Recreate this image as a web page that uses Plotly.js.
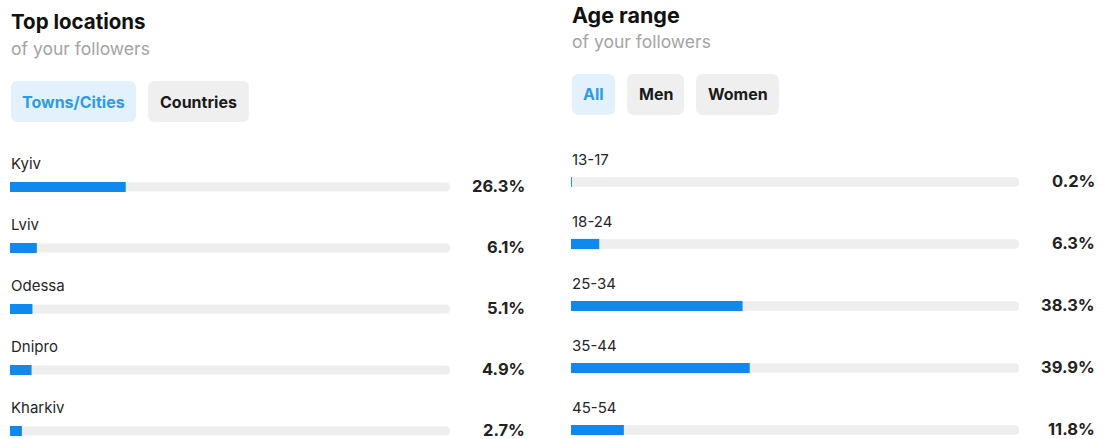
<!DOCTYPE html>
<html>
<head>
<meta charset="utf-8">
<script src="https://cdn.plot.ly/plotly-3.0.1.min.js"></script>
<style>html,body{margin:0;padding:0;background:#fff;}#chart{width:1104px;height:439px;}</style>
</head>
<body>
<div id="chart"></div>
<script>
// ---- data ----
const cities = ["Kyiv", "Lviv", "Odessa", "Dnipro", "Kharkiv"];
const cityShare = [26.3, 6.1, 5.1, 4.9, 2.7];
const ages = ["13-17", "18-24", "25-34", "35-44", "45-54"];
const ageShare = [0.2, 6.3, 38.3, 39.9, 11.8];
const fullScale = [100, 100, 100, 100, 100];
const leftTabs = ["Towns/Cities", "Countries"];
const rightTabs = ["All", "Men", "Women"];

// ---- style ----
const W = 1104, H = 439;
const BLUE = "#1089ee";
const TRACK = "#eeeeee";
const FONT = "Inter, 'Open Sans', sans-serif";
const px = v => v / W;
const py = v => 1 - v / H;

function roundRect(x0, y0, x1, y1, r) {
  const X = v => px(v).toFixed(5), Y = v => py(v).toFixed(5);
  return `M${X(x0 + r)},${Y(y0)} L${X(x1 - r)},${Y(y0)} Q${X(x1)},${Y(y0)} ${X(x1)},${Y(y0 + r)} ` +
         `L${X(x1)},${Y(y1 - r)} Q${X(x1)},${Y(y1)} ${X(x1 - r)},${Y(y1)} ` +
         `L${X(x0 + r)},${Y(y1)} Q${X(x0)},${Y(y1)} ${X(x0)},${Y(y1 - r)} ` +
         `L${X(x0)},${Y(y0 + r)} Q${X(x0)},${Y(y0)} ${X(x0 + r)},${Y(y0)} Z`;
}

const TW = 0.15, BW = 0.165;
const traces = [
  {type: "bar", orientation: "h", y: cities, x: fullScale, xaxis: "x", yaxis: "y",
   marker: {color: TRACK, cornerradius: 5}, width: TW, offset: -TW / 2, hoverinfo: "skip"},
  {type: "bar", orientation: "h", y: cities, x: cityShare, xaxis: "x", yaxis: "y",
   marker: {color: BLUE, cornerradius: 5}, width: BW, offset: -BW / 2, hoverinfo: "skip"},
  {type: "bar", orientation: "h", y: ages, x: fullScale, xaxis: "x2", yaxis: "y2",
   marker: {color: TRACK, cornerradius: 5}, width: TW, offset: -TW / 2, hoverinfo: "skip"},
  {type: "bar", orientation: "h", y: ages, x: ageShare, xaxis: "x2", yaxis: "y2",
   marker: {color: BLUE, cornerradius: 5}, width: BW, offset: -BW / 2, hoverinfo: "skip"}
];

const annotations = [];
const shapes = [];

function header(x, yT, yS, title, tSize) {
  annotations.push({xref: "paper", yref: "paper", x: px(x), y: py(yT), xanchor: "left", yanchor: "middle",
    text: "<b>" + title + "</b>", showarrow: false, font: {family: FONT, size: tSize, color: "#111"}});
  annotations.push({xref: "paper", yref: "paper", x: px(x), y: py(yS), xanchor: "left", yanchor: "middle",
    text: "of your followers", showarrow: false, font: {family: FONT, size: 17.5, color: "#a4a4a4"}});
}
header(9, 22, 48, "Top locations", 20.5);
header(570, 15, 41, "Age range", 21.5);

function tabs(names, bounds, y0, y1) {
  names.forEach((n, i) => {
    const [a, b] = bounds[i];
    const sel = i === 0;
    shapes.push({type: "path", xref: "paper", yref: "paper", path: roundRect(a, y0, b, y1, 7),
      fillcolor: sel ? "#e2f1fc" : "#efefef", line: {width: 0}, layer: "below"});
    annotations.push({xref: "paper", yref: "paper", x: px((a + b) / 2), y: py((y0 + y1) / 2),
      xanchor: "center", yanchor: "middle", text: "<b>" + n + "</b>", showarrow: false,
      font: {family: FONT, size: 16, color: sel ? "#2f9be6" : "#1a1a1a"}});
  });
}
tabs(leftTabs, [[11, 136], [148, 249]], 81, 122);
tabs(rightTabs, [[572, 615], [627, 684], [696, 779]], 74, 115);

function rows(cats, vals, xr, yr, labelShift, valueX) {
  cats.forEach((c, i) => {
    annotations.push({xref: xr, yref: yr, x: 0, y: c, xanchor: "left", yanchor: "middle", xshift: -1,
      yshift: labelShift, text: c, showarrow: false, font: {family: FONT, size: 15, color: "#262626"}});
    annotations.push({xref: "paper", yref: yr, x: px(valueX), y: c, xanchor: "right", yanchor: "middle",
      yshift: 1, text: "<b>" + vals[i].toFixed(1) + "%</b>", showarrow: false,
      font: {family: FONT, size: 16.5, color: "#222"}});
  });
}
rows(cities, cityShare, "x", "y", 24, 527);
rows(ages, ageShare, "x2", "y2", 23, 1097);

const hidden = {showgrid: false, zeroline: false, showticklabels: false, ticks: "", showline: false, fixedrange: true};

const layout = {
  width: W, height: H,
  margin: {l: 0, r: 0, t: 0, b: 0},
  paper_bgcolor: "#fff", plot_bgcolor: "rgba(0,0,0,0)",
  showlegend: false, barmode: "group",
  xaxis: Object.assign({domain: [px(10), px(450)], range: [0, 100], anchor: "y"}, hidden),
  yaxis: Object.assign({type: "category", categoryorder: "array", categoryarray: cities,
    range: [4 + 8 / 61, -187 / 61], anchor: "x"}, hidden),
  xaxis2: Object.assign({domain: [px(571), px(1019)], range: [0, 100], anchor: "y2"}, hidden),
  yaxis2: Object.assign({type: "category", categoryorder: "array", categoryarray: ages,
    range: [4 + 9 / 62, -182 / 62], anchor: "x2"}, hidden),
  annotations: annotations,
  shapes: shapes
};

Plotly.newPlot("chart", traces, layout, {displayModeBar: false, staticPlot: true});
</script>
</body>
</html>
